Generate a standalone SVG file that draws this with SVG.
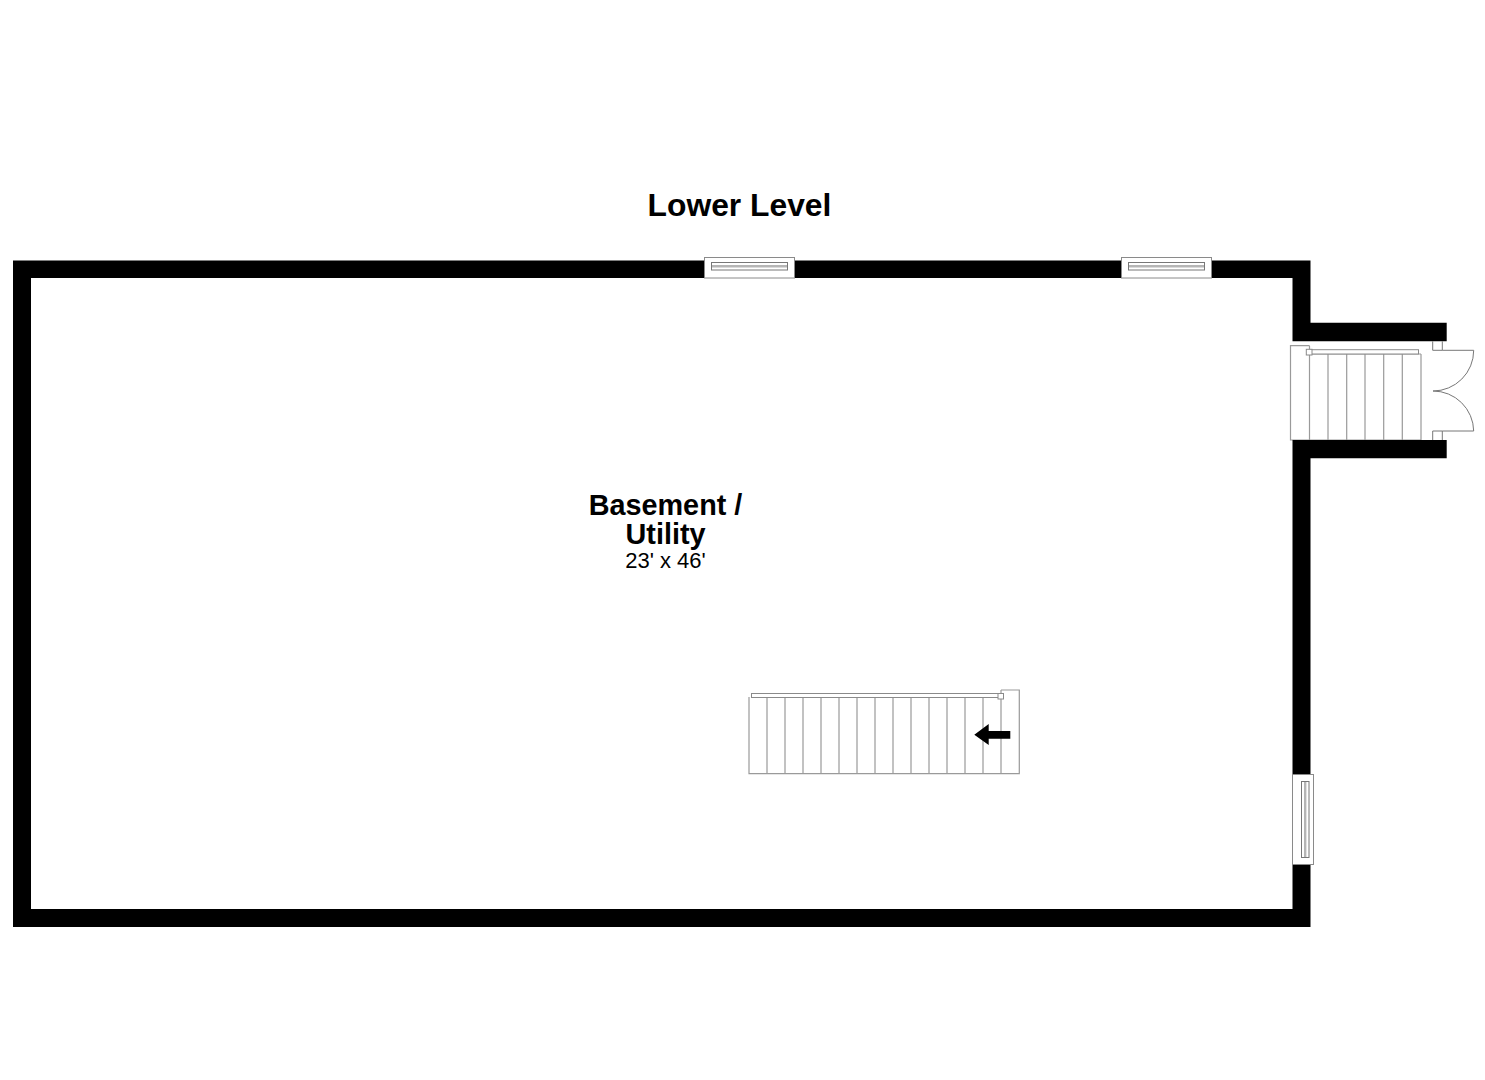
<svg xmlns="http://www.w3.org/2000/svg" width="1485" height="1080" viewBox="0 0 1485 1080">
<style>
.wall{fill:#000}
.ln{fill:none;stroke:#9a9a9a;stroke-width:1.2}
.dk{fill:none;stroke:#777;stroke-width:1}
.op{fill:#fff;stroke:#8a8a8a;stroke-width:1}
.wm{fill:#fff;stroke:#777;stroke-width:1}
.gl{fill:none;stroke:#b5b5b5;stroke-width:2.4}
.t{font-family:"Liberation Sans",Arial,sans-serif;text-anchor:middle;fill:#000}
.b{font-weight:700}
</style>
<rect width="1485" height="1080" fill="#fff"/>
<g id="stair-entry">
<path class="ln" d="M1309.5 345.7H1290.5V440H1421V354M1309.5 345.7V440M1328 354V440M1346.7 354V440M1365 354V440M1383.7 354V440M1402.3 354V440M1309.5 354H1421"/>
<rect class="op" x="1310" y="349.7" width="108.5" height="4.3"/>
<rect class="op" x="1306.3" y="349.3" width="5.7" height="5.7"/>
</g>
<g id="walls">
<path class="wall" fill-rule="evenodd" d="M13 260.5H1310.5V322.7H1446.7V341.3H1292.5V278H31V909H1292.5V440H1446.7V458.3H1310.5V927H13Z"/>
</g>
<g id="window-top-1">
<rect class="op" x="704.5" y="257.5" width="90" height="20.5"/>
<rect class="wm" x="711.5" y="262.5" width="76" height="7.5"/>
<path class="gl" d="M712 266.2H787"/>
</g>
<g id="window-top-2">
<rect class="op" x="1121.5" y="257.5" width="90" height="20.5"/>
<rect class="wm" x="1128.5" y="262.5" width="76" height="7.5"/>
<path class="gl" d="M1129 266.2H1204"/>
</g>
<g id="window-right">
<rect class="op" x="1292.5" y="774.5" width="21" height="90"/>
<rect class="wm" x="1301.5" y="781.5" width="7.5" height="76"/>
<path class="gl" d="M1305.2 782V857"/>
</g>
<g id="stair-main">
<path class="ln" d="M1001 690H1019.3V773.7H749V697M767 697V773.7M785 697V773.7M803 697V773.7M821 697V773.7M839 697V773.7M857 697V773.7M875 697V773.7M893 697V773.7M911 697V773.7M929 697V773.7M947 697V773.7M965 697V773.7M983 697V773.7M1001 690V773.7"/>
<rect class="op" x="751.5" y="693.5" width="248" height="4"/>
<rect class="op" x="998" y="693.5" width="5.5" height="5.5"/>
<path id="stair-arrow" fill="#000" d="M974.3 734.7L988.7 724V731H1010.3V738.7H988.7V745Z"/>
</g>
<g id="doors">
<path class="dk" d="M1432.7 341.3V350.3H1442.3V341.3M1432.7 440V431H1442.3V440"/>
<path class="dk" d="M1442.3 350.3H1473.7A40.7 40.7 0 0 1 1433 391A40.7 40.7 0 0 1 1473.7 431H1442.3"/>
</g>
<g id="labels">
<text class="t b" x="739.5" y="216" font-size="31.8">Lower Level</text>
<text class="t b" x="665.5" y="514.5" font-size="28.8">Basement /</text>
<text class="t b" x="665.5" y="544" font-size="28.8">Utility</text>
<text class="t" x="665.5" y="567.5" font-size="22">23' x 46'</text>
</g>
</svg>
